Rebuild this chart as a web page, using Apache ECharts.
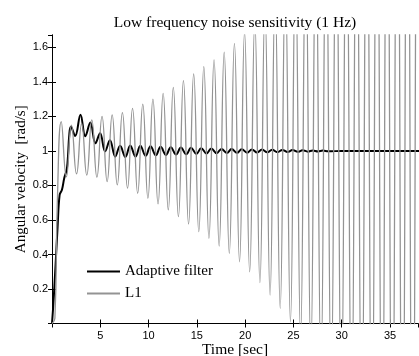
<!DOCTYPE html>
<html>
<head>
<meta charset="utf-8">
<script src="https://cdn.jsdelivr.net/npm/echarts@6/dist/echarts.min.js"></script>
<style>
  html, body { margin: 0; padding: 0; background: #fff; }
  #chart { width: 419px; height: 356px; }
</style>
</head>
<body>
<div id="chart"></div>
<script>
// values (time in sec, angular velocity in rad/s)
const afTime = [0, 0.15, 0.34, 0.58, 0.79, 1.03, 1.27, 1.55, 1.8,
  1.95, 2.4, 2.95, 3.45, 3.97, 4.5, 4.98, 5.5, 6.0, 6.55,
  7.05, 7.6, 8.1, 8.65, 9.15, 9.7, 10.2, 10.75, 11.25, 11.8,
  12.3, 12.85, 13.35, 13.9, 14.4, 14.95, 15.45, 16.0, 16.5, 17.05,
  17.55, 18.1, 18.6, 19.15, 19.65, 20.2, 20.7, 21.25, 21.75, 22.3,
  22.8, 23.35, 23.85, 24.4, 24.9, 25.45, 25.95, 26.5, 27.0, 27.55,
  28.05, 28.6, 30, 38.5];
const afValue = [0, 0.12, 0.31, 0.56, 0.745, 0.775, 0.843, 0.9, 1.10,
  1.14, 1.087, 1.21, 1.085, 1.165, 1.045, 1.103, 0.998, 1.062, 0.967,
  1.03, 0.965, 1.032, 0.968, 1.03, 0.972, 1.027, 0.975, 1.024, 0.977,
  1.022, 0.979, 1.02, 0.981, 1.018, 0.983, 1.016, 0.985, 1.014, 0.987,
  1.012, 0.988, 1.011, 0.989, 1.01, 0.99, 1.009, 0.991, 1.008, 0.992,
  1.007, 0.993, 1.006, 0.994, 1.005, 0.995, 1.004, 0.996, 1.003, 0.997,
  1.002, 0.998, 1.0, 1.0];

const l1Time = [0, 0.3, 0.55, 0.96,
  1.49, 2.01, 2.54, 3.07, 3.60, 4.12, 4.65, 5.18, 5.71, 6.23,
  6.76, 7.29, 7.82, 8.34, 8.87, 9.40, 9.93, 10.45, 10.98, 11.51,
  12.04, 12.56, 13.09, 13.61, 14.14, 14.67, 15.20, 15.72, 16.25, 16.78,
  17.31, 17.83, 18.36, 18.89, 19.42, 19.94, 20.47, 21.00, 21.53, 22.05,
  22.58, 23.10, 23.63, 24.16, 24.69, 25.21, 25.74, 26.27, 26.80, 27.32,
  27.85, 28.38, 28.91, 29.43, 29.96, 30.49, 31.02, 31.54, 32.07, 32.60,
  33.12, 33.65, 34.18, 34.70, 35.23, 35.76, 36.29, 36.81, 37.34, 37.87,
  38.40];
const l1Value = [0, 0.03, 0.7, 1.17,
  0.85, 1.15, 0.867, 1.16, 0.86, 1.18, 0.848, 1.20, 0.822, 1.209,
  0.803, 1.222, 0.784, 1.247, 0.755, 1.271, 0.726, 1.300, 0.693, 1.334,
  0.658, 1.369, 0.619, 1.408, 0.577, 1.446, 0.532, 1.489, 0.494, 1.528,
  0.449, 1.572, 0.407, 1.624, 0.358, 1.69, 0.300, 1.755, 0.237, 1.83,
  0.165, 1.91, 0.088, 1.99, 0.01, 2.08, -0.08, 2.17, -0.18, 2.27,
  -0.28, 2.37, -0.39, 2.48, -0.5, 2.6, -0.62, 2.72, -0.74, 2.85,
  -0.87, 2.98, -1.0, 3.12, -1.14, 3.26, -1.28, 3.41, -1.43, 3.56,
  -1.58];

const seriesNames = ['Adaptive filter', 'L1'];
const xTicks = [0, 37.9, 5];      // min, max, interval
const yTicks = [0, 1.672, 0.2];

const serif = 'Liberation Serif';
const sans = 'Liberation Sans';

const chart = echarts.init(document.getElementById('chart'), null, { renderer: 'canvas' });

const boxAxis = {
  axisLine: { show: true, lineStyle: { color: '#000', width: 1 } },
  axisTick: { show: true, inside: true, length: 4, lineStyle: { color: '#000' } },
  splitLine: { show: false }
};

chart.setOption({
  animation: false,
  backgroundColor: '#fff',
  title: {
    text: 'Low frequency noise sensitivity (1 Hz)',
    left: 230,
    top: 10,
    textAlign: 'center',
    textStyle: { fontFamily: serif, fontSize: 15.5, fontWeight: 'normal', color: '#000' }
  },
  grid: { left: 52, right: 1, top: 35, bottom: 32.5, containLabel: false, outerBoundsMode: 'none' },
  legend: {
    orient: 'vertical',
    left: 87,
    top: 264,
    padding: 0,
    icon: 'rect',
    itemWidth: 33,
    itemHeight: 2,
    itemGap: 7,
    data: seriesNames,
    textStyle: { fontFamily: serif, fontSize: 15, color: '#000' }
  },
  xAxis: [{
    ...boxAxis,
    type: 'value',
    min: xTicks[0], max: xTicks[1], interval: xTicks[2],
    name: 'Time [sec]',
    nameLocation: 'middle',
    nameGap: 18,
    nameMoveOverlap: false,
    nameTextStyle: { fontFamily: serif, fontSize: 15.5, color: '#000' },
    axisLabel: { fontFamily: sans, fontSize: 11, color: '#000', margin: 7,
      showMinLabel: false, showMaxLabel: false }
  }, {
    ...boxAxis,
    type: 'value',
    position: 'top',
    min: xTicks[0], max: xTicks[1], interval: xTicks[2],
    axisLabel: { show: false }
  }],
  yAxis: [{
    ...boxAxis,
    type: 'value',
    min: yTicks[0], max: yTicks[1], interval: yTicks[2],
    name: 'Angular velocity  [rad/s]',
    nameLocation: 'middle',
    nameGap: 23,
    nameMoveOverlap: false,
    nameTextStyle: { fontFamily: serif, fontSize: 15, color: '#000' },
    axisLabel: { fontFamily: sans, fontSize: 11, color: '#000', margin: 4,
      showMinLabel: false, showMaxLabel: false }
  }, {
    ...boxAxis,
    type: 'value',
    position: 'right',
    min: yTicks[0], max: yTicks[1], interval: yTicks[2],
    axisLabel: { show: false }
  }],
  series: [{
    name: seriesNames[0],
    type: 'line',
    symbol: 'none',
    smooth: 0.4,
    clip: true,
    data: afTime.map((t, i) => [t, afValue[i]]),
    lineStyle: { color: '#000', width: 2 },
    itemStyle: { color: '#000' },
    z: 2
  }, {
    name: seriesNames[1],
    type: 'line',
    symbol: 'none',
    smooth: 0.5,
    clip: true,
    data: l1Time.map((t, i) => [t, l1Value[i]]),
    lineStyle: { color: '#939393', width: 1.3 },
    itemStyle: { color: '#939393' },
    z: 3
  }]
});
</script>
</body>
</html>
